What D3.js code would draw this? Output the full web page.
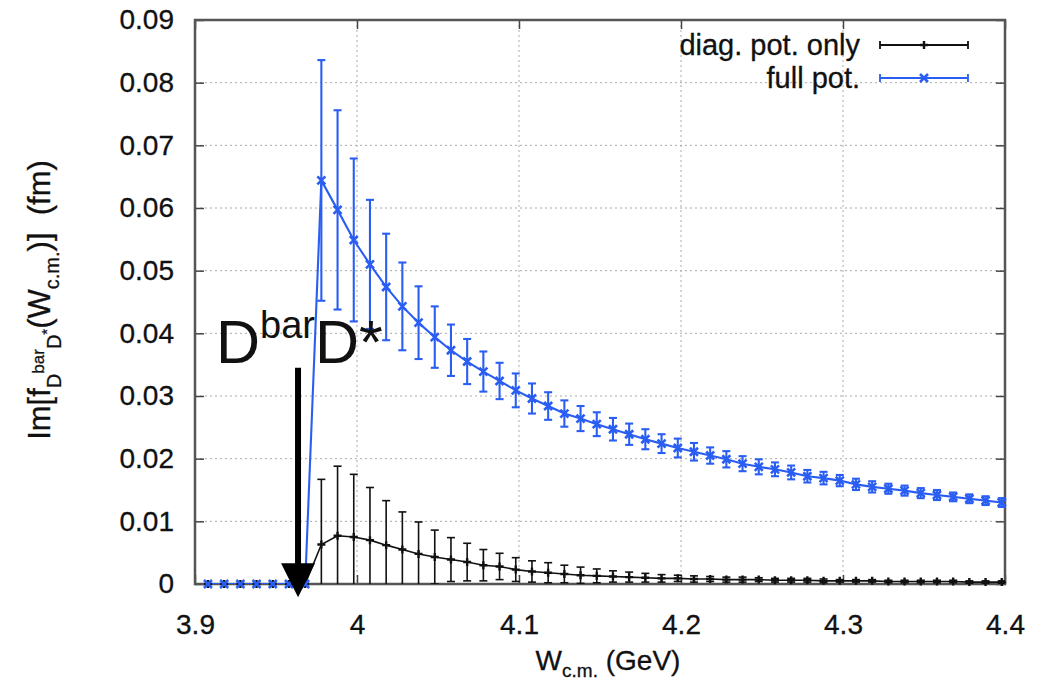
<!DOCTYPE html>
<html>
<head>
<meta charset="utf-8">
<script src="https://cdn.jsdelivr.net/npm/d3@7"></script>
<style>
  body { margin: 0; background: #fff; }
  text { font-family: "Liberation Sans", Arial, Helvetica, sans-serif; fill: #111; }
</style>
</head>
<body>
<svg id="chart" width="1055" height="685"></svg>
<script>
// W_c.m. (GeV) sample points
var wcm = [3.908, 3.918, 3.928, 3.938, 3.948, 3.958, 3.968, 3.978, 3.988, 3.998,
           4.008, 4.018, 4.028, 4.038, 4.048, 4.058, 4.068, 4.078, 4.088, 4.098,
           4.108, 4.118, 4.128, 4.138, 4.148, 4.158, 4.168, 4.178, 4.188, 4.198,
           4.208, 4.218, 4.228, 4.238, 4.248, 4.258, 4.268, 4.278, 4.288, 4.298,
           4.308, 4.318, 4.328, 4.338, 4.348, 4.358, 4.368, 4.378, 4.388, 4.398];

// diag. pot. only
var diagPot = [0, 0, 0, 0, 0, 0, 0, 0.0063, 0.0077, 0.0075,
               0.0070, 0.0062, 0.0055, 0.0048, 0.0043, 0.0039, 0.0035, 0.0030, 0.0028, 0.0023,
               0.0020, 0.0018, 0.0016, 0.0014, 0.0013, 0.0012, 0.0011, 0.0010, 0.0009, 0.0009,
               0.0008, 0.0008, 0.0007, 0.0007, 0.0007, 0.0006, 0.0006, 0.0006, 0.0005, 0.0005,
               0.0005, 0.0005, 0.0004, 0.0004, 0.0004, 0.0004, 0.0004, 0.0003, 0.0003, 0.0003];
var diagErr = [0, 0, 0, 0, 0, 0, 0, 0.0104, 0.0111, 0.0100,
               0.0084, 0.0071, 0.0060, 0.0051, 0.0043, 0.0035, 0.0030, 0.0025, 0.0021, 0.0019,
               0.0017, 0.0016, 0.0014, 0.0013, 0.0011, 0.0009, 0.0008, 0.0007, 0.0006, 0.0005,
               0.0005, 0.0004, 0.0004, 0.0004, 0.0003, 0.0003, 0.0003, 0.0003, 0.0003, 0.0002,
               0.0002, 0.0002, 0.0002, 0.0002, 0.0002, 0.0002, 0.0002, 0.0002, 0.0002, 0.0002];

// full pot.
var fullPot = [0, 0, 0, 0, 0, 0, 0, 0.0644, 0.0597, 0.0549,
               0.0510, 0.0474, 0.0443, 0.0417, 0.0394, 0.0373, 0.0355, 0.0339, 0.0324, 0.0309,
               0.0296, 0.0284, 0.0272, 0.0264, 0.0255, 0.0247, 0.0239, 0.0231, 0.0224, 0.0217,
               0.0211, 0.0205, 0.0199, 0.0192, 0.0187, 0.0183, 0.0178, 0.0172, 0.0169, 0.0165,
               0.0159, 0.0155, 0.0152, 0.0149, 0.0145, 0.0142, 0.0139, 0.0136, 0.0133, 0.0130];
var fullErr = [0, 0, 0, 0, 0, 0, 0, 0.0192, 0.0159, 0.0130,
               0.0103, 0.0085, 0.0070, 0.0058, 0.0049, 0.0041, 0.0036, 0.0032, 0.0029, 0.0027,
               0.0024, 0.0022, 0.0021, 0.0020, 0.0019, 0.0018, 0.0017, 0.0016, 0.0015, 0.0015,
               0.0014, 0.0013, 0.0013, 0.0012, 0.0012, 0.0011, 0.0011, 0.0010, 0.0010, 0.0009,
               0.0009, 0.0009, 0.0008, 0.0008, 0.0008, 0.0008, 0.0007, 0.0007, 0.0007, 0.0007];

var xTicks = [3.9, 4.0, 4.1, 4.2, 4.3, 4.4];
var xTickLabels = ["3.9", "4", "4.1", "4.2", "4.3", "4.4"];
var yTicks = [0, 0.01, 0.02, 0.03, 0.04, 0.05, 0.06, 0.07, 0.08, 0.09];
var yTickLabels = ["0", "0.01", "0.02", "0.03", "0.04", "0.05", "0.06", "0.07", "0.08", "0.09"];

var seriesNames = ["diag. pot. only", "full pot."];

// threshold arrow annotation (data coords)
var arrowW = 3.9636;
var arrowTop = 0.0345, arrowTip = -0.0021;

var margin = {top: 20, right: 50, bottom: 101, left: 195};
var width = 1055 - margin.left - margin.right;
var height = 685 - margin.top - margin.bottom;

var blue = "#2a5ef2";

var x = d3.scaleLinear().domain([3.9, 4.4]).range([0, width]);
var y = d3.scaleLinear().domain([0, 0.09]).range([height, 0]);

var svg = d3.select("#chart");
var graph = svg.append("g")
    .attr("transform", "translate(" + margin.left + "," + margin.top + ")");

svg.append("defs").append("clipPath")
    .attr("id", "clip")
    .append("rect")
    .attr("width", width)
    .attr("height", height);

// grid
graph.append("g").selectAll("line")
    .data(xTicks.slice(1, -1))
    .enter().append("line")
    .attr("x1", function (d) { return x(d); })
    .attr("x2", function (d) { return x(d); })
    .attr("y1", 0).attr("y2", height)
    .attr("stroke", "#aaa").attr("stroke-width", 1).attr("stroke-dasharray", "2,3");

graph.append("g").selectAll("line")
    .data(yTicks.slice(1, -1))
    .enter().append("line")
    .attr("y1", function (d) { return y(d); })
    .attr("y2", function (d) { return y(d); })
    .attr("x1", 0).attr("x2", width)
    .attr("stroke", "#aaa").attr("stroke-width", 1).attr("stroke-dasharray", "2,3");

// axes: inside ticks, mirrored
var tl = 9;
graph.append("g")
    .attr("transform", "translate(0," + height + ")")
    .call(d3.axisBottom(x).tickValues(xTicks).tickSize(-tl).tickPadding(30)
        .tickFormat(function (d, i) { return xTickLabels[i]; }));
graph.append("g")
    .call(d3.axisTop(x).tickValues(xTicks).tickSize(-tl).tickFormat(""));
graph.append("g")
    .call(d3.axisLeft(y).tickValues(yTicks).tickSize(-tl).tickPadding(21)
        .tickFormat(function (d, i) { return yTickLabels[i]; }));
graph.append("g")
    .attr("transform", "translate(" + width + ",0)")
    .call(d3.axisRight(y).tickValues(yTicks).tickSize(-tl).tickFormat(""));

graph.selectAll(".domain").remove();
graph.selectAll(".tick line").attr("stroke", "#444").attr("stroke-width", 1.5);
graph.selectAll(".tick text")
    .style("font-family", "'Liberation Sans', Arial, sans-serif")
    .style("font-size", "28px").attr("fill", "#111")
    .attr("stroke", "#111").attr("stroke-width", 0.3);

graph.append("rect")
    .attr("width", width).attr("height", height)
    .attr("fill", "none").attr("stroke", "#555").attr("stroke-width", 2.5);

// series: bars and lines clipped, point markers not (like gnuplot)
var plot = graph.append("g").attr("clip-path", "url(#clip)");
var points = graph.append("g");

function drawSeries(vals, errs, color, lw, marker) {
    var g = plot.append("g");
    var cap = 4;
    wcm.forEach(function (w, i) {
        var cx = x(w), lo = y(vals[i] - errs[i]), hi = y(vals[i] + errs[i]);
        g.append("line").attr("x1", cx).attr("x2", cx).attr("y1", lo).attr("y2", hi)
            .attr("stroke", color).attr("stroke-width", lw);
        [lo, hi].forEach(function (yy) {
            g.append("line").attr("x1", cx - cap).attr("x2", cx + cap).attr("y1", yy).attr("y2", yy)
                .attr("stroke", color).attr("stroke-width", lw);
        });
    });
    var line = d3.line()
        .x(function (d, i) { return x(wcm[i]); })
        .y(function (d) { return y(d); });
    g.append("path").datum(vals).attr("d", line)
        .attr("fill", "none").attr("stroke", color).attr("stroke-width", lw);
    var pg = points.append("g");
    wcm.forEach(function (w, i) {
        drawMarker(pg, x(w), y(vals[i]), color, marker);
    });
}

function drawMarker(g, cx, cy, color, type) {
    var s = 4;
    if (type === "x") {
        g.append("path").attr("d", "M" + (cx - s) + "," + (cy - s) + "L" + (cx + s) + "," + (cy + s) +
            "M" + (cx - s) + "," + (cy + s) + "L" + (cx + s) + "," + (cy - s))
            .attr("stroke", color).attr("stroke-width", 2.6);
    } else {
        g.append("path").attr("d", "M" + (cx - s) + "," + cy + "L" + (cx + s) + "," + cy +
            "M" + cx + "," + (cy - s) + "L" + cx + "," + (cy + s))
            .attr("stroke", color).attr("stroke-width", 2.4);
    }
}

drawSeries(diagPot, diagErr, "#111", 1.6, "+");
drawSeries(fullPot, fullErr, blue, 2.1, "x");

// legend
var legend = svg.append("g");
var legendColors = ["#111", blue];
var legendMarkers = ["+", "x"];
seriesNames.forEach(function (name, i) {
    var ly = 45 + i * 33;
    legend.append("text").attr("x", 860).attr("y", ly).attr("dy", "0.35em")
        .attr("text-anchor", "end").style("font-size", "29px")
        .attr("stroke", "#111").attr("stroke-width", 0.3).text(name);
    var c = legendColors[i];
    legend.append("line").attr("x1", 880).attr("x2", 968).attr("y1", ly).attr("y2", ly)
        .attr("stroke", c).attr("stroke-width", 1.8);
    [880, 968].forEach(function (lx) {
        legend.append("line").attr("x1", lx).attr("x2", lx).attr("y1", ly - 4).attr("y2", ly + 4)
            .attr("stroke", c).attr("stroke-width", 1.8);
    });
    drawMarker(legend, 924, ly, c, legendMarkers[i]);
});

// axis titles
var xt = svg.append("text")
    .attr("x", margin.left + width / 2 + 8).attr("y", 670)
    .attr("text-anchor", "middle").style("font-size", "28px")
    .attr("stroke", "#111").attr("stroke-width", 0.3);
xt.append("tspan").text("W");
xt.append("tspan").attr("dy", 7).style("font-size", "19px").text("c.m.");
xt.append("tspan").attr("dy", -7).text(" (GeV)");

var yt = svg.append("text")
    .attr("transform", "translate(50,300) rotate(-90)")
    .attr("text-anchor", "middle").style("font-size", "31px")
    .attr("stroke", "#111").attr("stroke-width", 0.3);
yt.append("tspan").text("Im[f");
yt.append("tspan").attr("dy", 11).style("font-size", "20px").text("D");
yt.append("tspan").attr("dy", -17).style("font-size", "17px").text("bar");
yt.append("tspan").attr("dy", 17).style("font-size", "20px").text("D");
yt.append("tspan").attr("dy", -9).style("font-size", "15px").text("*");
yt.append("tspan").attr("dy", -2).text("(W");
yt.append("tspan").attr("dy", 9).style("font-size", "20px").text("c.m.");
yt.append("tspan").attr("dy", -9).text(")]\u00a0\u00a0(fm)");

// threshold annotation
var ann = svg.append("g").attr("transform", "translate(" + margin.left + "," + margin.top + ")");
var ax = x(arrowW);
ann.append("line").attr("x1", ax).attr("x2", ax)
    .attr("y1", y(arrowTop)).attr("y2", y(arrowTip) - 30)
    .attr("stroke", "#000").attr("stroke-width", 6);
ann.append("path")
    .attr("d", "M" + (ax - 17) + "," + (y(arrowTip) - 34) + "L" + (ax + 17) + "," + (y(arrowTip) - 34) +
        "L" + ax + "," + y(arrowTip) + "Z")
    .attr("fill", "#000");

var lab = svg.append("text").attr("x", 216).attr("y", 363).style("font-size", "61px").attr("fill", "#000");
lab.append("tspan").text("D");
lab.append("tspan").attr("dy", -25).style("font-size", "38px").text("bar");
lab.append("tspan").attr("dy", 25).text("D*");
</script>
</body>
</html>
